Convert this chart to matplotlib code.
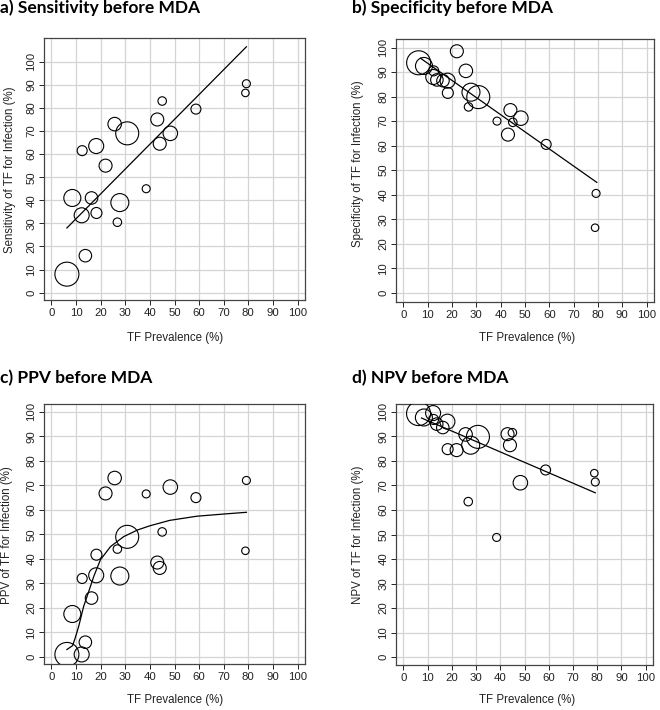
import matplotlib
matplotlib.use('Agg')
import matplotlib.pyplot as plt

plt.rcParams['font.family'] = 'Liberation Sans'

# TF prevalence (%) and relative study size (circle diameter, px) - same studies in all panels
tf_prev = [6.3, 8.5, 12.5, 12.3, 13.8, 16.3, 18.3, 18.2, 22.0, 25.7, 26.8,
           27.8, 30.8, 38.5, 43.0, 44.0, 45.0, 48.3, 58.7, 79.2, 78.8]
study_size = [24, 17, 10, 15, 12.5, 12.5, 11, 15, 13, 13.5, 8.5,
              18, 23, 8, 13, 13, 8.5, 14.5, 10, 8, 7.5]

sensitivity = [8, 41, 61.5, 33.5, 16, 41, 34.5, 63.5, 55, 73, 30.5,
               39, 69, 45, 75, 64.5, 83, 69, 79.5, 90.5, 86.5]
specificity = [93.8, 92.5, 90.5, 88, 86.8, 86.5, 81.5, 86.5, 98.5, 90.5, 75.8,
               81.8, 79.8, 70, 64.5, 74.5, 69.5, 71.2, 60.5, 40.5, 26.5]
ppv = [1, 17.5, 32, 1, 6, 24, 41.7, 33.3, 66.7, 73, 44,
       33, 49, 66.5, 38.5, 36.3, 51, 69.3, 65, 72, 43.3]
npv = [99.3, 97.7, 96.9, 99.5, 95, 93.6, 84.8, 96, 84.4, 90.8, 63.4,
       86.4, 89.8, 48.8, 90.9, 86.4, 91.5, 71.1, 76.3, 71.4, 75]

# fitted lines / curve
sens_fit_x = [6.3, 79.2]
sens_fit_y = [28, 106.5]
spec_fit_x = [7.0, 79.5]
spec_fit_y = [95.7, 45]
ppv_fit_x = [6.3, 8.6, 9.6, 11.1, 13.1, 14.5, 17.2, 19.9, 24.0, 29.4, 35.0, 40.0, 48.0, 59.0, 70.0, 79.2]
ppv_fit_y = [3.0, 4.6, 7.5, 12.5, 20.6, 24.7, 32.8, 39.6, 45.0, 49.1, 51.8, 53.5, 55.7, 57.4, 58.3, 59.0]
npv_fit_x = [7.5, 79.2]
npv_fit_y = [97.5, 67]

ticks = list(range(0, 101, 10))

W, H = 660, 710
fig = plt.figure(figsize=(W / 100, H / 100), dpi=100)


def px_axes(left, top, right, bottom):
    return fig.add_axes([left / W, 1 - bottom / H, (right - left) / W, (bottom - top) / H])


def ftext(x, y, s, **kw):
    fig.text(x / W, 1 - y / H, s, **kw)


def panel(ax, yvals, fx, fy, ylim):
    ax.set_xlim(-3, 103)
    ax.set_ylim(*ylim)
    ax.set_xticks(ticks)
    ax.set_yticks(ticks)
    ax.set_yticklabels([str(t) for t in ticks], rotation=90, va='center')
    ax.grid(True, color='#d4d4d4', lw=0.9)
    ax.set_axisbelow(True)
    sizes = [(d * 0.72) ** 2 for d in study_size]
    ax.scatter(tf_prev, yvals, s=sizes, facecolors='none', edgecolors='black', linewidths=0.8, zorder=3)
    ax.plot(fx, fy, color='black', lw=0.9, zorder=4)
    ax.tick_params(labelsize=8.2, length=3.5, width=0.7, colors='#222222', pad=2)
    for sp in ax.spines.values():
        sp.set_color('#444444')
        sp.set_linewidth(0.9)


ax_a = px_axes(44, 38, 305, 300)
panel(ax_a, sensitivity, sens_fit_x, sens_fit_y, (-3.2, 110.3))
ax_b = px_axes(396, 39, 654, 302)
panel(ax_b, specificity, spec_fit_x, spec_fit_y, (-3.8, 103.5))
ax_c = px_axes(44, 404, 305, 664)
panel(ax_c, ppv, ppv_fit_x, ppv_fit_y, (-2.9, 103.2))
ax_d = px_axes(396, 404, 653, 665)
panel(ax_d, npv, npv_fit_x, npv_fit_y, (-3.2, 103.2))

tkw = dict(fontsize=12.5, fontweight='bold', family='Lato', ha='left', va='center')
ftext(0, 8, 'a) Sensitivity before MDA', **tkw)
ftext(352, 8, 'b) Specificity before MDA', **tkw)
ftext(0, 378, 'c) PPV before MDA', **tkw)
ftext(352, 378, 'd) NPV before MDA', **tkw)

lkw = dict(fontsize=8.3, color='#222222', ha='center', va='center')
ftext(175, 338, 'TF Prevalence (%)', **lkw)
ftext(527, 338, 'TF Prevalence (%)', **lkw)
ftext(175, 700, 'TF Prevalence (%)', **lkw)
ftext(527, 700, 'TF Prevalence (%)', **lkw)
ftext(10, 170, 'Sensitivity of TF for Infection (%)', rotation=90, **lkw)
ftext(358, 164, 'Specificity of TF for Infection (%)', rotation=90, **lkw)
ftext(7, 535, 'PPV of TF for Infection (%)', rotation=90, **lkw)
ftext(358, 535, 'NPV of TF for Infection (%)', rotation=90, **lkw)

fig.savefig('out.png', dpi=100)
